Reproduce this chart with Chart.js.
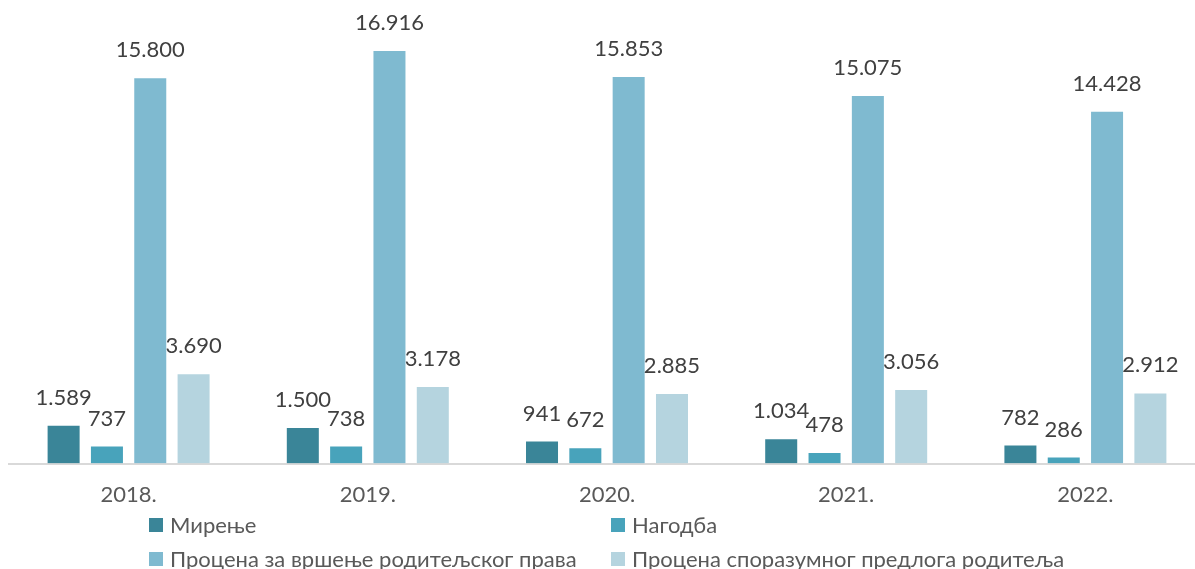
<!DOCTYPE html>
<html>
<head>
<meta charset="utf-8">
<script src="https://cdn.jsdelivr.net/npm/chart.js@4"></script>
<style>
  body { margin: 0; background: #fff; width: 1195px; height: 569px; overflow: hidden; position: relative; font-family: Lato, "Noto Sans", sans-serif; }
  #wrap { position: absolute; left: 0; top: 0; width: 1205px; height: 518px; }
  #legenda { position: absolute; left: 149px; top: 511px; width: 1046px; }
  .red { position: absolute; display: flex; align-items: center; font-size: 22px; color: #595959; white-space: nowrap; }
  .kv { width: 14px; height: 14px; margin-right: 7px; }
</style>
</head>
<body>
<div id="wrap"><canvas id="grafik"></canvas></div>
<div id="legenda"></div>
<script>
const godine = ["2018.", "2019.", "2020.", "2021.", "2022."]

const mirenje = [1589, 1500, 941, 1034, 782]
const nagodba = [737, 738, 672, 478, 286]
const procenaPrava = [15800, 16916, 15853, 15075, 14428]
const procenaPredloga = [3690, 3178, 2885, 3056, 2912]

const nazivi = [
    "Мирење",
    "Нагодба",
    "Процена за вршење родитељског права",
    "Процена споразумног предлога родитеља"
]
const boje = ["#3a8598", "#48a3bb", "#7fbad0", "#b5d4df"]

// broj sa tackom kao separatorom hiljada
function formatiraj(v) {
    return v.toString().replace(/\B(?=(\d{3})+(?!\d))/g, ".")
}

// ispisuje vrednost iznad svakog stubica
const oznake = {
    id: "oznake",
    afterDatasetsDraw(chart) {
        const ctx = chart.ctx
        ctx.save()
        ctx.font = "22px Lato, 'Noto Sans', sans-serif"
        ctx.fillStyle = "#404040"
        ctx.textAlign = "center"
        ctx.textBaseline = "bottom"
        chart.data.datasets.forEach((ds, i) => {
            chart.getDatasetMeta(i).data.forEach((bar, j) => {
                ctx.fillText(formatiraj(ds.data[j]), bar.x, bar.y - 16)
            })
        })
        ctx.restore()
    }
}

const serije = [mirenje, nagodba, procenaPrava, procenaPredloga]

const grafik = new Chart(document.getElementById("grafik").getContext("2d"), {
    type: "bar",
    data: {
        labels: godine,
        datasets: serije.map((s, i) => ({
            label: nazivi[i],
            data: s,
            backgroundColor: boje[i],
            borderColor: "rgba(255,255,255,0.6)",
            borderWidth: 1,
            categoryPercentage: 0.7245,
            barPercentage: 0.785
        }))
    },
    options: {
        responsive: true,
        maintainAspectRatio: false,
        animation: false,
        layout: { padding: { left: 9, right: 0, top: 0, bottom: 0 } },
        plugins: {
            legend: { display: false },
            tooltip: { enabled: false }
        },
        scales: {
            x: {
                grid: { display: false },
                border: { display: true, color: "#d9d9d9", width: 2 },
                ticks: {
                    color: "#595959",
                    padding: 10,
                    font: { size: 22, family: "Lato, 'Noto Sans', sans-serif" }
                }
            },
            y: {
                display: false,
                min: 0,
                max: 18960
            }
        }
    },
    plugins: [oznake]
})

// legenda u dve kolone
const legenda = document.getElementById("legenda")
const polozaji = [[0, 0], [462, 0], [0, 34], [462, 34]]
nazivi.forEach((n, i) => {
    const red = document.createElement("div")
    red.className = "red"
    red.style.left = polozaji[i][0] + "px"
    red.style.top = polozaji[i][1] + "px"
    red.innerHTML = `<span class="kv" style="background:${boje[i]}"></span><span>${n}</span>`
    legenda.appendChild(red)
})
</script>
</body>
</html>
